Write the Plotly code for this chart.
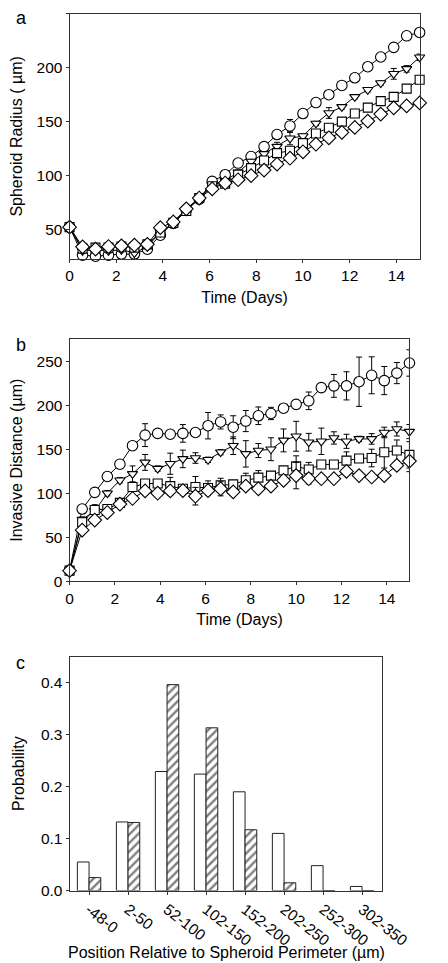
import plotly.graph_objects as go

# ---------------- data ----------------
time_days = [0, 0.556, 1.111, 1.667, 2.222, 2.778, 3.333, 3.889, 4.444, 5.0,
             5.556, 6.111, 6.667, 7.222, 7.778, 8.333, 8.889, 9.444, 10.0,
             10.556, 11.111, 11.667, 12.222, 12.778, 13.333, 13.889, 14.444, 15.0]

# Panel a: spheroid radius (um)
radius_circle = [52, 26, 25, 26, 27, 27, 31.5, 44.5, 56, 68, 78, 94.5, 100.7, 111.5,
                 117.6, 126.8, 138, 146, 157.5, 167.7, 175, 183.6, 190.7, 201, 210,
                 219, 229.7, 232.8]
radius_circle_err = [2, 2, 2, 2, 2, 2, 2, 2, 2, 2, 2, 3, 2, 2, 2, 2, 3, 6, 2, 2, 2, 2, 2,
                     2, 2, 2, 2, 2]
radius_triangle = [52, 30, 31, 30, 31, 28, 34, 47, 55, 68, 79, 91, 95, 103, 113, 120,
                   126.8, 134.5, 136.6, 148.3, 158, 163.7, 173, 179.6, 185.8, 194.4,
                   199, 209.8]
radius_triangle_err = [2, 2, 3, 2, 2, 7, 2, 2, 4, 2, 2, 2, 2, 2, 2, 2, 4, 6, 2, 2, 5, 2,
                       2, 2, 2, 5, 3, 3]
radius_square = [52, 32, 33, 33, 34, 33, 36, 47, 56, 67, 79, 90, 92.4, 100.7, 106.8,
                 113.9, 120.7, 123, 130, 139, 144.3, 150, 157.5, 163, 169, 173, 180.6,
                 188.9]
radius_square_err = [2, 2, 2, 2, 2, 2, 2, 2, 2, 2, 2, 2, 2, 2, 3, 3, 3, 2, 2, 2, 2, 2, 2,
                     2, 2, 2, 2, 2]
radius_diamond = [52, 33.7, 31.6, 34, 34.6, 35.3, 36, 51.5, 56.8, 69, 79, 87.5, 93, 96,
                  99.8, 105, 110.5, 116, 122, 129, 135, 140, 144.6, 150.5, 157, 162.8,
                  164.6, 167.4]
radius_diamond_err = [2] * 28

# Panel b: invasive distance (um)
inv_circle = [12.4, 82, 101, 119, 133, 154, 166, 168, 167, 168, 169, 176.7, 181, 175,
              182, 188, 190.6, 196.6, 201, 205, 220, 222, 222, 226.7, 234, 228, 236.5,
              248]
inv_circle_err = [2, 3, 3, 3, 3, 3, 13, 3, 4, 10, 3, 15, 8, 13, 12, 10, 7, 3, 3, 10, 3,
                  13, 16, 28, 21, 16, 12, 15]
inv_triangle = [12, 70, 80, 100, 114.7, 122, 135, 128, 133.5, 139, 140, 138, 146.6, 154,
                144.7, 148.5, 150, 160, 164.7, 158, 159, 162.8, 159, 161.7, 161.7, 169,
                173, 170]
inv_triangle_err = [2, 3, 4, 3, 3, 9, 9, 3, 12, 10, 6, 3, 3, 10, 15, 8, 13, 13, 17, 10,
                    15, 7, 8, 3, 6, 6, 8, 8]
inv_square = [12, 67, 81, 82, 89, 107, 111, 111, 108, 105, 107, 106, 109, 110, 114.7,
              117.7, 120, 126, 130.5, 127, 132.7, 132.7, 137, 139.5, 140, 146.6, 148.5,
              143.6]
inv_square_err = [2, 4, 6, 3, 3, 3, 4, 3, 10, 4, 12, 8, 8, 4, 8, 8, 4, 4, 12, 8, 4, 4,
                  10, 4, 10, 18, 12, 15]
inv_diamond = [12, 58, 69.5, 78, 87.6, 94, 102.6, 100, 102.6, 103, 96.6, 103, 105,
               101.5, 108, 105, 108, 114.7, 120, 116.5, 116.5, 116.5, 124.8, 120, 118.4,
               120, 131.6, 136.5]
inv_diamond_err = [2, 3, 3, 3, 3, 3, 3, 3, 4, 4, 10, 4, 8, 3, 3, 3, 3, 3, 15, 6, 3, 3,
                   3, 3, 3, 3, 3, 12]

# Panel c: probability histogram
position_bins = ["-48-0", "2-50", "52-100", "102-150", "152-200", "202-250",
                 "252-300", "302-350"]
prob_open = [0.055, 0.132, 0.229, 0.224, 0.190, 0.110, 0.048, 0.008]
prob_hatched = [0.025, 0.131, 0.396, 0.313, 0.117, 0.015, 0.0, 0.0]

# ---------------- figure ----------------
W, H = 448, 963
FONT = "Liberation Sans, Arial, sans-serif"
fig = go.Figure()

series_a = [
    (radius_circle, radius_circle_err, "circle", 10.5),
    (radius_triangle, radius_triangle_err, "triangle-down", 9),
    (radius_square, radius_square_err, "square", 9),
    (radius_diamond, radius_diamond_err, "diamond", 10.5),
]
series_b = [
    (inv_circle, inv_circle_err, "circle", 10.5),
    (inv_triangle, inv_triangle_err, "triangle-down", 9),
    (inv_square, inv_square_err, "square", 9),
    (inv_diamond, inv_diamond_err, "diamond", 10.5),
]

for (vals, errs, sym, sz) in series_a:
    fig.add_trace(go.Scatter(
        x=time_days, y=vals, mode="lines+markers", xaxis="x", yaxis="y",
        line=dict(color="black", width=1),
        marker=dict(symbol=sym, size=sz, color="white",
                    line=dict(color="black", width=1.1)),
        error_y=dict(type="data", array=errs, color="black", thickness=1, width=3),
        showlegend=False, cliponaxis=False))

for (vals, errs, sym, sz) in series_b:
    fig.add_trace(go.Scatter(
        x=time_days, y=vals, mode="lines+markers", xaxis="x2", yaxis="y2",
        line=dict(color="black", width=1),
        marker=dict(symbol=sym, size=sz, color="white",
                    line=dict(color="black", width=1.1)),
        error_y=dict(type="data", array=errs, color="black", thickness=1, width=3),
        showlegend=False, cliponaxis=False))

fig.add_trace(go.Bar(
    x=position_bins, y=prob_open, xaxis="x3", yaxis="y3",
    marker=dict(color="white", line=dict(color="#222222", width=1)),
    showlegend=False))
fig.add_trace(go.Bar(
    x=position_bins, y=prob_hatched, xaxis="x3", yaxis="y3",
    marker=dict(color="white", line=dict(color="#222222", width=1),
                pattern=dict(shape="/", fgcolor="black", bgcolor="white",
                             size=6, solidity=0.4)),
    showlegend=False))

def px_x(p):
    return p / W

def px_y(p):
    return 1 - p / H

axis_common = dict(showline=True, linecolor="#333333", linewidth=1, mirror=True,
                   ticks="outside", ticklen=3, tickcolor="#333333", showgrid=False,
                   zeroline=False, tickfont=dict(family=FONT, size=15.5, color="black"),
                   title_font=dict(family=FONT, size=16, color="black"))

fig.update_layout(
    width=W, height=H, margin=dict(l=0, r=0, t=0, b=0),
    paper_bgcolor="white", plot_bgcolor="white",
    barmode="group", bargap=0.4, bargroupgap=0,
    font=dict(family=FONT, color="black"),
    xaxis=dict(domain=[px_x(62), px_x(439)], anchor="y", range=[0, 15],
               tickvals=[0, 2, 4, 6, 8, 10, 12, 14],
               title=dict(text="Time (Days)", standoff=8), **axis_common),
    yaxis=dict(domain=[px_y(253), px_y(6)], anchor="x", range=[22.5, 250],
               tickvals=[50, 100, 150, 200, 250],
               title=dict(text="Spheroid Radius ( µm)", standoff=14), **axis_common),
    xaxis2=dict(domain=[px_x(62), px_x(428)], anchor="y2", range=[0, 15],
                tickvals=[0, 2, 4, 6, 8, 10, 12, 14],
                title=dict(text="Time (Days)", standoff=8), **axis_common),
    yaxis2=dict(domain=[px_y(578), px_y(334)], anchor="x2", range=[0, 275],
                tickvals=[0, 50, 100, 150, 200, 250],
                title=dict(text="Invasive Distance (µm)", standoff=14), **axis_common),
    xaxis3=dict(domain=[px_x(62), px_x(398)], anchor="y3", range=[-0.5, 7.5],
                tickangle=38, **axis_common),
    yaxis3=dict(domain=[px_y(890), px_y(654)], anchor="x3", range=[0, 0.45],
                tickvals=[0.0, 0.1, 0.2, 0.3, 0.4], tickformat=".1f",
                title=dict(text="Probability", standoff=12), **axis_common),
)

fig.add_annotation(text="Position Relative to Spheroid Perimeter (µm)",
                   x=px_x(231), y=px_y(952), xref="paper", yref="paper",
                   xanchor="center", yanchor="middle", showarrow=False,
                   font=dict(family=FONT, size=16, color="black"))

for label, ypx in [("a", 10), ("b", 340), ("c", 660)]:
    fig.add_annotation(text=label, x=px_x(2), y=px_y(ypx), xref="paper", yref="paper",
                       xanchor="left", yanchor="middle", showarrow=False,
                       font=dict(family=FONT, size=18, color="black"))

fig.write_html("out.html")
